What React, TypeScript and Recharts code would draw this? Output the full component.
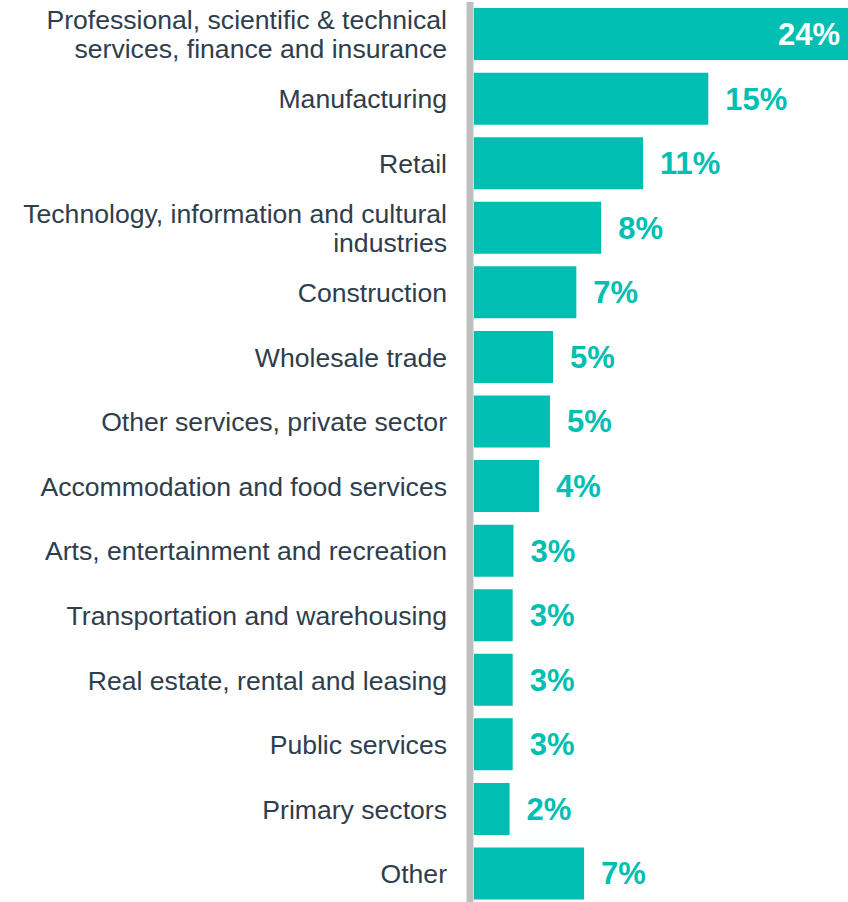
import { Bar, BarChart, LabelList, XAxis, YAxis } from "recharts";

const sectors = [
  "Professional, scientific & technical\nservices, finance and insurance",
  "Manufacturing",
  "Retail",
  "Technology, information and cultural\nindustries",
  "Construction",
  "Wholesale trade",
  "Other services, private sector",
  "Accommodation and food services",
  "Arts, entertainment and recreation",
  "Transportation and warehousing",
  "Real estate, rental and leasing",
  "Public services",
  "Primary sectors",
  "Other",
];

const shares = [24.1, 15.1, 10.9, 8.2, 6.6, 5.1, 4.9, 4.2, 2.55, 2.5, 2.5, 2.5, 2.3, 7.1];

const data = sectors.map((name, i) => ({ name, share: shares[i] }));

const TEAL = "#00BFB2";
const TEXT = "#2f3d4c";
const FONT = "'Liberation Sans', Arial, sans-serif";

function SectorTick(props: any) {
  const { x, y, payload } = props;
  const lines = String(payload.value).split("\n");
  const lineHeight = 29;
  const first = y + 9.5 - ((lines.length - 1) * lineHeight) / 2;
  return (
    <text x={x} y={first} textAnchor="end" fill={TEXT} fontSize={26.6} fontFamily={FONT}>
      {lines.map((line, i) => (
        <tspan key={i} x={x} y={first + i * lineHeight}>
          {line}
        </tspan>
      ))}
    </text>
  );
}

function ShareLabel(props: any) {
  const { x, y, width, height, value, index } = props;
  const text = `${Math.round(value)}%`;
  const cy = y + height / 2 + 11;
  if (index === 0) {
    return (
      <text x={x + width - 8} y={cy} textAnchor="end" fill="#ffffff" fontSize={31} fontWeight="bold" fontFamily={FONT}>
        {text}
      </text>
    );
  }
  return (
    <text x={x + width + 17} y={cy} textAnchor="start" fill={TEAL} fontSize={31} fontWeight="bold" fontFamily={FONT}>
      {text}
    </text>
  );
}

export default function App() {
  return (
    <div style={{ position: "absolute", left: 0, top: 0, width: 848, height: 902, overflow: "hidden", background: "#fff" }}>
      <BarChart
        width={848}
        height={906}
        data={data}
        layout="vertical"
        margin={{ top: 2, right: 0, bottom: 0, left: 0 }}
        barCategoryGap="9.4%"
      >
        <XAxis type="number" hide domain={[-0.25, 24.1]} allowDataOverflow />
        <YAxis
          type="category"
          dataKey="name"
          width={470}
          interval={0}
          tickLine={false}
          tickSize={0}
          tickMargin={23}
          axisLine={{ stroke: "#BFBFBF", strokeWidth: 7 }}
          tick={<SectorTick />}
        />
        <Bar dataKey="share" fill={TEAL} isAnimationActive={false}>
          <LabelList dataKey="share" content={<ShareLabel />} />
        </Bar>
      </BarChart>
    </div>
  );
}
